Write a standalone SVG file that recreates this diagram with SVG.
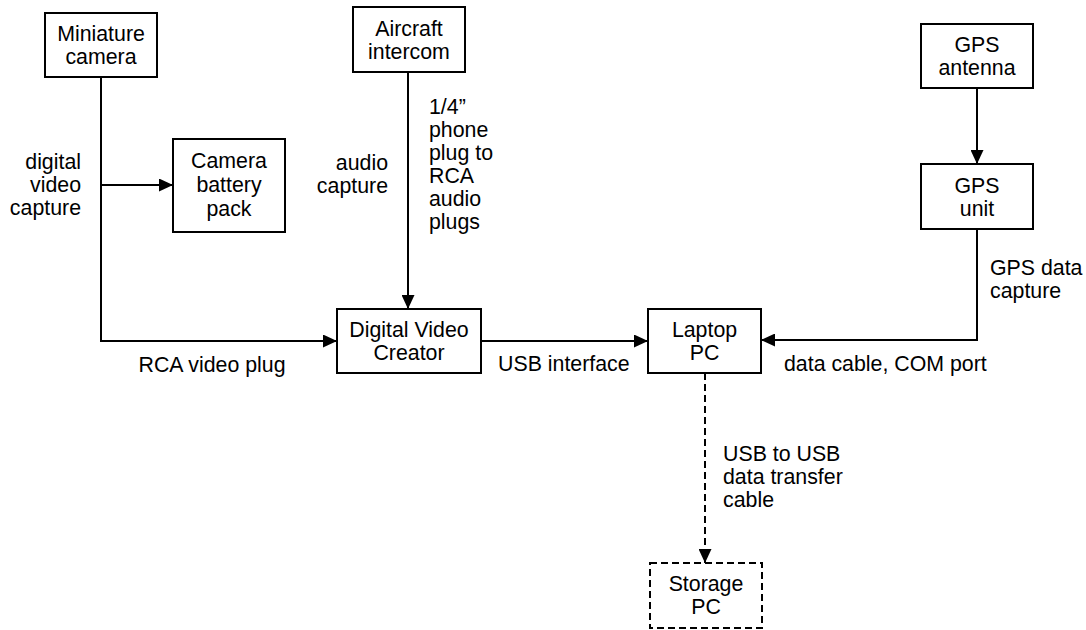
<svg xmlns="http://www.w3.org/2000/svg" width="1086" height="630" viewBox="0 0 1086 630">
  <defs>
    <marker id="arrow" viewBox="0 0 14 13" refX="14" refY="6.5" markerWidth="14" markerHeight="13" markerUnits="userSpaceOnUse" orient="auto">
      <path d="M0,0 L14,6.5 L0,13 Z" fill="#000"/>
    </marker>
    <style>
      text { font-family: "Liberation Sans", Arial, sans-serif; font-size: 21.33px; fill: #000; }
      .c { text-anchor: middle; }
      .r { text-anchor: end; }
      .box { fill: #fff; stroke: #000; stroke-width: 2; }
      .dashed { stroke-dasharray: 7 4; }
      .wire { fill: none; stroke: #000; stroke-width: 2; }
    </style>
  </defs>
  <rect width="1086" height="630" fill="#fff"/>

  <!-- connectors -->
  <g id="connectors">
    <polyline class="wire" points="101,77 101,341 337,341" marker-end="url(#arrow)"/>
    <line class="wire" x1="101" y1="185" x2="173" y2="185" marker-end="url(#arrow)"/>
    <line class="wire" x1="408" y1="72" x2="408" y2="309" marker-end="url(#arrow)"/>
    <line class="wire" x1="481" y1="341" x2="648" y2="341" marker-end="url(#arrow)"/>
    <line class="wire" x1="977" y1="88" x2="977" y2="164" marker-end="url(#arrow)"/>
    <polyline class="wire" points="977,229 977,340 761,340" marker-end="url(#arrow)"/>
    <line class="wire dashed" x1="705" y1="373" x2="705" y2="563" marker-end="url(#arrow)"/>

    <text class="r" x="81" y="169">digital</text>
    <text class="r" x="81" y="192">video</text>
    <text class="r" x="81" y="215">capture</text>

    <text class="r" x="388" y="170">audio</text>
    <text class="r" x="388" y="193">capture</text>

    <text x="429" y="114">1/4”</text>
    <text x="429" y="137">phone</text>
    <text x="429" y="160">plug to</text>
    <text x="429" y="183">RCA</text>
    <text x="429" y="206">audio</text>
    <text x="429" y="229">plugs</text>

    <text class="c" x="212" y="372">RCA video plug</text>
    <text x="498" y="371">USB interface</text>
    <text x="784" y="371">data cable, COM port</text>

    <text x="990" y="275">GPS data</text>
    <text x="990" y="298">capture</text>

    <text x="723" y="461">USB to USB</text>
    <text x="723" y="484">data transfer</text>
    <text x="723" y="507">cable</text>
  </g>

  <!-- nodes -->
  <g id="miniature-camera">
    <rect class="box" x="45" y="13" width="112" height="64"/>
    <text class="c" x="101" y="41">Miniature</text>
    <text class="c" x="101" y="64">camera</text>
  </g>
  <g id="camera-battery-pack">
    <rect class="box" x="173" y="139" width="112" height="93"/>
    <text class="c" x="229" y="168">Camera</text>
    <text class="c" x="229" y="192">battery</text>
    <text class="c" x="229" y="216">pack</text>
  </g>
  <g id="aircraft-intercom">
    <rect class="box" x="353" y="7" width="112" height="65"/>
    <text class="c" x="409" y="35.5">Aircraft</text>
    <text class="c" x="409" y="58.5">intercom</text>
  </g>
  <g id="digital-video-creator">
    <rect class="box" x="337" y="309" width="144" height="64"/>
    <text class="c" x="409" y="337">Digital Video</text>
    <text class="c" x="409" y="360">Creator</text>
  </g>
  <g id="laptop-pc">
    <rect class="box" x="648" y="309" width="113" height="64"/>
    <text class="c" x="704.5" y="337">Laptop</text>
    <text class="c" x="704.5" y="360">PC</text>
  </g>
  <g id="gps-antenna">
    <rect class="box" x="921" y="24" width="112" height="64"/>
    <text class="c" x="977" y="52">GPS</text>
    <text class="c" x="977" y="75">antenna</text>
  </g>
  <g id="gps-unit">
    <rect class="box" x="921" y="164" width="112" height="65"/>
    <text class="c" x="977" y="192.5">GPS</text>
    <text class="c" x="977" y="215.5">unit</text>
  </g>
  <g id="storage-pc">
    <rect class="box dashed" x="650" y="563" width="112" height="65"/>
    <text class="c" x="706" y="591">Storage</text>
    <text class="c" x="706" y="614">PC</text>
  </g>
</svg>
